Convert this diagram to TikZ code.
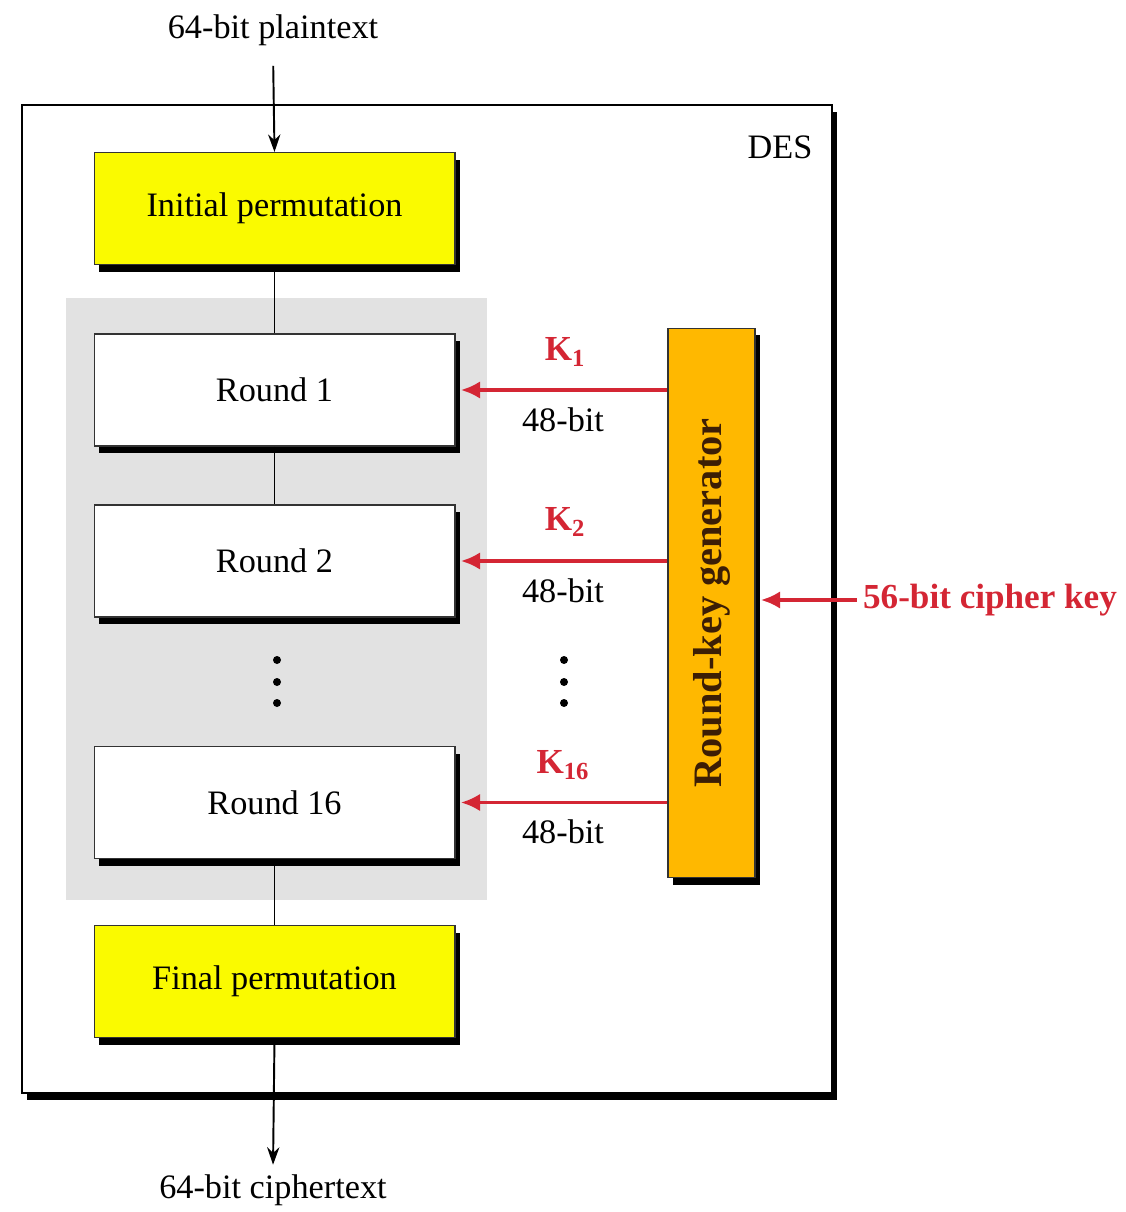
\documentclass[tikz,border=0pt]{standalone}
\usepackage{fontspec}
\setmainfont{Liberation Serif}
\usetikzlibrary{arrows.meta,positioning,shadows}

\definecolor{ipyellow}{RGB}{250,250,0}
\definecolor{keyorange}{RGB}{255,184,0}
\definecolor{keyred}{RGB}{212,38,52}
\definecolor{roundgray}{RGB}{226,226,226}
\definecolor{genbrown}{RGB}{60,30,5}

\tikzset{
  blackshadow/.style={drop shadow={shadow xshift=3pt, shadow yshift=-4pt, fill=black, opacity=1}},
  txt/.style={font=\fontsize{19.5}{23}\selectfont},
  stagebox/.style={draw=black!80, line width=0.6pt, minimum width=7.22cm, minimum height=2.24cm,
    blackshadow, txt},
  keyarrow/.style={keyred, line width=2.2pt, -{Latex[length=11pt,width=10pt]}},
  klabel/.style={keyred, font=\bfseries\fontsize{20}{23}\selectfont},
  dotmark/.style={circle, fill=black, inner sep=0pt, minimum size=0.16cm},
}

\begin{document}
\begin{tikzpicture}[x=0.02cm, y=-0.02cm, >={Stealth[length=10pt,width=7pt]}]
  \useasboundingbox (0,0) rectangle (1125,1212);
  % outer frame and the shaded block of rounds
  \node[draw, line width=1.5pt, fill=white, minimum width=16.2cm, minimum height=19.76cm, blackshadow] (des) at (427,599) {};
  \node[txt] (deslabel) at (780,147) {DES};
  \node[fill=roundgray, minimum width=8.42cm, minimum height=12.04cm] (block) at (276.5,599) {};
  % permutations and rounds
  \node[stagebox, fill=ipyellow] (ip) at (274.5,208.5) {Initial permutation};
  \node[stagebox, fill=white] (r1) at (274.5,390) {Round 1};
  \node[stagebox, fill=white] (r2) at (274.5,561) {Round 2};
  \node[stagebox, fill=white] (r16) at (274.5,802.5) {Round 16};
  \node[stagebox, fill=ipyellow] (fp) at (274.5,981.5) {Final permutation};
  \foreach \y/\n in {660/a,682/b,703/c} {
    \node[dotmark] (rdot\n) at (277,\y) {};
    \node[dotmark] (kdot\n) at (564,\y) {};
  }
  % plaintext in, ciphertext out
  \node[txt] (pt) at (273,30) {64-bit plaintext};
  \node[txt] (ct) at (273,1190) {64-bit ciphertext};
  \draw[->, line width=1.1pt, shorten <=8pt] (pt.south) -- (ip.north);
  \draw[line width=1.1pt] (ip.south) -- (r1.north);
  \draw[line width=1.1pt] (r1.south) -- (r2.north);
  \draw[line width=1.1pt] (r16.south) -- (fp.north);
  \draw[->, line width=1.1pt, shorten >=2pt] (fp.south) -- (ct.north);
  % key schedule
  \node[draw=black!80, line width=0.6pt, fill=keyorange, minimum width=1.74cm, minimum height=11cm, blackshadow] (rkg) at (711.5,603) {};
  \node[rotate=90, genbrown, font=\bfseries\fontsize{23}{26}\selectfont] (rkgtext) at (rkg) {Round-key generator};
  \draw[keyarrow] (rkg.west |- r1) -- ([xshift=3pt]r1.east);
  \draw[keyarrow] (rkg.west |- r2) -- ([xshift=3pt]r2.east);
  \draw[keyarrow] (rkg.west |- r16) -- ([xshift=3pt]r16.east);
  \node[klabel] (k1) at (565,352) {K\textsubscript{1}};
  \node[txt] (b1) at (563,420) {48-bit};
  \node[klabel] (k2) at (565,522) {K\textsubscript{2}};
  \node[txt] (b2) at (563,591) {48-bit};
  \node[klabel] (k16) at (563,765) {K\textsubscript{16}};
  \node[txt] (b16) at (563,832) {48-bit};
  \node[klabel] (cipherkey) at (990,600) {56-bit cipher key};
  \draw[keyarrow] (cipherkey.west) -- ([xshift=3pt]rkg.east |- cipherkey);
\end{tikzpicture}
\end{document}
